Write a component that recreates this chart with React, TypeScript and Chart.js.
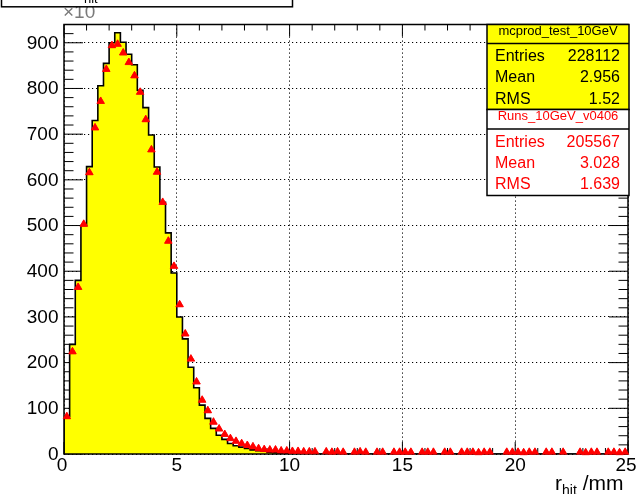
import React, { useEffect, useRef } from 'react';
import { Chart, registerables } from 'chart.js';

Chart.register(...registerables);

// ---------------- data ----------------
const BIN_WIDTH = 0.25;
const X_MIN = 0;
const X_MAX = 25;
const Y_MAX = 940;

const xTickValues = [0, 5, 10, 15, 20, 25];
const xTickLabels = ['0', '5', '10', '15', '20', '25'];
const yTickValues = [0, 100, 200, 300, 400, 500, 600, 700, 800, 900];
const yTickLabels = ['0', '100', '200', '300', '400', '500', '600', '700', '800', '900'];

// yellow histogram (mcprod_test_10GeV), 100 bins of 0.25 mm
const mcValues = [
  82, 240, 380, 500, 629, 730, 806, 855, 900, 922,
  901, 875, 852, 796, 758, 698, 628, 551, 484, 396,
  300, 252, 190, 145, 107, 78, 56, 41, 32, 23,
  18, 15, 12, 9, 7, 6, 4, 3, 2, 2,
  1, 1, 1, 1, 1, 0, 1, 0, 1, 0,
  0, 0, 1, 0, 0, 0, 0, 0, 0, 0,
  0, 0, 0, 0, 0, 0, 0, 0, 0, 0,
  0, 0, 0, 0, 0, 0, 0, 0, 0, 0,
  0, 0, 0, 0, 0, 0, 0, 0, 0, 0,
  0, 0, 0, 0, 0, 0, 0, 0, 0, 0,
];

// red markers (Runs_10GeV_v0406)
const dataValues = [
  82, 224, 365, 503, 616, 714, 772, 842, 894, 897,
  878, 857, 828, 792, 732, 666, 617, 551, 466, 411,
  327, 263, 208, 158, 118, 95, 70, 55, 43, 34,
  28, 23, 19, 16, 12, 10, 9, 9, 7, 7,
  6, 6, 5, 5, 5, 0, 5, 4, 5, 4,
  0, 4, 5, 4, 0, 4, 4, 0, 4, 4,
  4, 4, 0, 4, 4, 4, 0, 4, 4, 0,
  4, 4, 4, 3, 4, 4, 0, 0, 4, 4,
  4, 3, 4, 4, 0, 4, 4, 0, 4, 0,
  0, 4, 3, 4, 4, 0, 4, 4, 3, 4,
];

const mcTitle = 'mcprod_test_10GeV';
const mcStatLabels = ['Entries', 'Mean', 'RMS'];
const mcStatValues = ['228112', '2.956', '1.52'];
const dataTitle = 'Runs_10GeV_v0406';
const dataStatLabels = ['Entries', 'Mean', 'RMS'];
const dataStatValues = ['205567', '3.028', '1.639'];

const FONT = '"Liberation Sans", Arial, Helvetica, sans-serif';

// ---------------- drawing helpers ----------------
function drawStatsBox(
  ctx: CanvasRenderingContext2D,
  left: number, right: number, top: number, sep: number, bottom: number,
  title: string, labels: string[], values: string[],
  fill: string, color: string, titleBase: number, rowBases: number[]
) {
  ctx.save();
  ctx.fillStyle = fill;
  ctx.fillRect(left, top, right - left, bottom - top);
  ctx.strokeStyle = '#000';
  ctx.lineWidth = 1.5;
  ctx.strokeRect(left, top, right - left, bottom - top);
  ctx.beginPath();
  ctx.moveTo(left, sep);
  ctx.lineTo(right, sep);
  ctx.stroke();
  ctx.fillStyle = color;
  ctx.font = `13px ${FONT}`;
  ctx.textAlign = 'center';
  ctx.textBaseline = 'alphabetic';
  ctx.fillText(title, (left + right) / 2, titleBase);
  ctx.font = `16px ${FONT}`;
  for (let i = 0; i < labels.length; i++) {
    ctx.textAlign = 'left';
    ctx.fillText(labels[i], left + 8, rowBases[i]);
    ctx.textAlign = 'right';
    ctx.fillText(values[i], right - 9, rowBases[i]);
  }
  ctx.restore();
}

const rootStylePlugin = {
  id: 'rootStyle',
  beforeDatasetsDraw(chart: any) {
    const { ctx, chartArea: a, scales } = chart;
    const xs = scales.x;
    const ys = scales.y;
    ctx.save();
    ctx.strokeStyle = '#000';
    ctx.lineWidth = 1;
    ctx.beginPath();
    for (let v = 0; v <= Y_MAX; v += 20) {
      const py = ys.getPixelForValue(v);
      const len = v % 100 === 0 ? 19 : 9.5;
      ctx.moveTo(a.left, py);
      ctx.lineTo(a.left + len, py);
      ctx.moveTo(a.right, py);
      ctx.lineTo(a.right - len, py);
    }
    for (let v = X_MIN; v <= X_MAX; v += 1) {
      const px = xs.getPixelForValue(v);
      const len = v % 5 === 0 ? 12 : 6;
      ctx.moveTo(px, a.bottom);
      ctx.lineTo(px, a.bottom - len);
      ctx.moveTo(px, a.top);
      ctx.lineTo(px, a.top + len);
    }
    ctx.stroke();
    ctx.restore();
  },
  afterDatasetsDraw(chart: any) {
    const { ctx, chartArea: a } = chart;
    ctx.save();
    ctx.strokeStyle = '#000';
    ctx.lineWidth = 1.5;
    ctx.strokeRect(a.left, a.top, a.right - a.left, a.bottom - a.top);
    ctx.restore();
    // markers sit on top of the frame
    const meta = chart.getDatasetMeta(0);
    ctx.save();
    meta.data.forEach((el: any) => el.draw(ctx, a));
    ctx.restore();
  },
  afterDraw(chart: any) {
    const { ctx, chartArea: a, scales } = chart;
    const xs = scales.x;
    const ys = scales.y;
    ctx.save();
    // y tick labels
    ctx.fillStyle = '#000';
    ctx.font = `19px ${FONT}`;
    ctx.textAlign = 'right';
    ctx.textBaseline = 'alphabetic';
    yTickValues.forEach((v, i) => {
      ctx.fillText(yTickLabels[i], a.left - 5.5, ys.getPixelForValue(v) + 5.8);
    });
    // x tick labels
    ctx.textAlign = 'center';
    xTickValues.forEach((v, i) => {
      let px = xs.getPixelForValue(v);
      if (i === 0) px -= 2;
      if (i === xTickValues.length - 1) px -= 2;
      ctx.fillText(xTickLabels[i], px, a.bottom + 17);
    });
    // x axis title: r_hit /mm, right aligned
    const big = `21px ${FONT}`;
    const small = `14px ${FONT}`;
    ctx.textAlign = 'left';
    ctx.font = big;
    const wR = ctx.measureText('r').width;
    const wTail = ctx.measureText(' /mm').width;
    ctx.font = small;
    const wSub = ctx.measureText('hit').width;
    const endX = a.right - 4.5;
    let tx = endX - (wR + wSub + wTail);
    const base = a.bottom + 36;
    ctx.font = big;
    ctx.fillText('r', tx, base);
    tx += wR;
    ctx.font = small;
    ctx.fillText('hit', tx, base + 5);
    tx += wSub;
    ctx.font = big;
    ctx.fillText(' /mm', tx, base);

    // x10 exponent label
    ctx.fillStyle = '#7a7a7a';
    ctx.font = `19px ${FONT}`;
    ctx.fillText('\u00d710', a.left - 1, 18.3);

    // title box (mostly above the page)
    ctx.fillStyle = '#fff';
    ctx.fillRect(1.5, -20, 291, 26.8);
    ctx.strokeStyle = '#000';
    ctx.lineWidth = 1.5;
    ctx.strokeRect(1.5, -20, 291, 26.8);
    ctx.fillStyle = '#000';
    ctx.font = `19px ${FONT}`;
    ctx.fillText('N', 70, -3);
    ctx.font = `13px ${FONT}`;
    ctx.fillText('hit', 84, 2.6);
    ctx.restore();

    // stats boxes
    drawStatsBox(ctx, 487, 629, 24.5, 43.5, 109.5, mcTitle, mcStatLabels, mcStatValues,
      '#ffff00', '#000', 35, [60.5, 82, 103.5]);
    drawStatsBox(ctx, 487, 629, 109.5, 129, 195.5, dataTitle, dataStatLabels, dataStatValues,
      '#ffffff', '#ff0000', 120, [146.5, 167.5, 189]);
  },
};

export default function App() {
  const canvasRef = useRef<HTMLCanvasElement | null>(null);

  useEffect(() => {
    const canvas = canvasRef.current;
    if (!canvas) return;

    const histPoints: { x: number; y: number }[] = [{ x: X_MIN, y: 0 }];
    mcValues.forEach((v, i) => histPoints.push({ x: X_MIN + i * BIN_WIDTH, y: v }));
    histPoints.push({ x: X_MAX, y: mcValues[mcValues.length - 1] });

    const markerPoints = dataValues
      .map((v, i) => ({ x: X_MIN + (i + 0.5) * BIN_WIDTH, y: v }))
      .filter((p) => p.y > 0);

    const chart = new Chart(canvas, {
      type: 'line',
      data: {
        datasets: [
          {
            type: 'scatter',
            label: dataTitle,
            data: markerPoints,
            order: 0,
            showLine: false,
            pointStyle: 'triangle',
            pointRadius: 4.3,
            pointBackgroundColor: '#ff0000',
            pointBorderColor: '#ff0000',
            pointBorderWidth: 0.6,
          } as any,
          {
            type: 'line',
            label: mcTitle,
            data: histPoints,
            order: 1,
            stepped: true,
            fill: 'origin',
            backgroundColor: '#ffff00',
            borderColor: '#000000',
            borderWidth: 1.6,
            pointRadius: 0,
            tension: 0,
          } as any,
        ],
      },
      options: {
        responsive: false,
        animation: false,
        devicePixelRatio: 1,
        layout: { padding: { left: 64, right: 9, top: 24.5, bottom: 40 } },
        plugins: {
          legend: { display: false },
          tooltip: { enabled: false },
          title: { display: false },
        },
        scales: {
          x: {
            type: 'linear',
            min: X_MIN,
            max: X_MAX,
            ticks: { display: false, stepSize: 5 },
            grid: { color: '#000', lineWidth: 1, drawTicks: false },
            border: { display: false, dash: [1.2, 2.8] },
            afterFit: (s: any) => { s.height = 0; },
          },
          y: {
            type: 'linear',
            min: 0,
            max: Y_MAX,
            ticks: { display: false, stepSize: 100, includeBounds: false },
            grid: { color: '#000', lineWidth: 1, drawTicks: false },
            border: { display: false, dash: [1.2, 2.8] },
            afterFit: (s: any) => { s.width = 0; },
          },
        },
      } as any,
      plugins: [rootStylePlugin],
    });

    return () => chart.destroy();
  }, []);

  return (
    <div style={{ position: 'fixed', left: 0, top: 0, width: 637, height: 494, background: '#fff' }}>
      <canvas ref={canvasRef} width={637} height={494} style={{ display: 'block' }} />
    </div>
  );
}
